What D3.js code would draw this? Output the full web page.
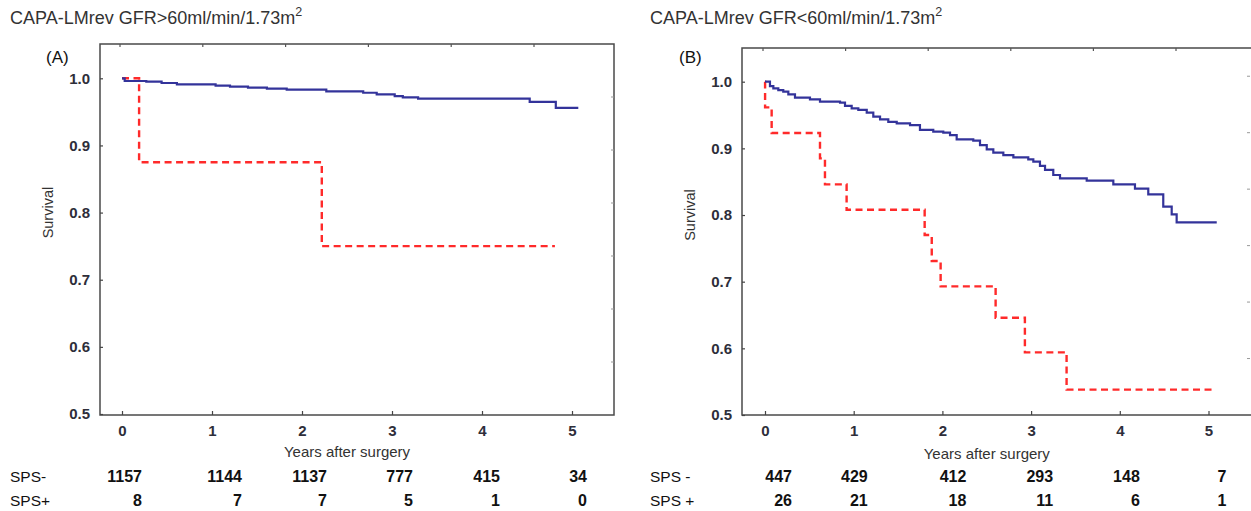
<!DOCTYPE html>
<html>
<head>
<meta charset="utf-8">
<script src="https://cdn.jsdelivr.net/npm/d3@7"></script>
<style>
  body { margin: 0; background: #fff; }
  svg { font-family: "Liberation Sans", Arial, sans-serif; }
</style>
</head>
<body>
<svg id="chart" width="1251" height="511"></svg>
<script>
// ticks
const yearTicks = [0, 1, 2, 3, 4, 5];
const survTicks = [0.5, 0.6, 0.7, 0.8, 0.9, 1.0];

// panel A (GFR > 60) step curves
const aNegTime = [0, 0.03, 0.27, 0.44, 0.61, 1.04, 1.2, 1.4, 1.61, 1.83, 2.27, 2.68, 2.83, 3.03, 3.12, 3.29, 4.53, 4.82, 5.07];
const aNegSurv = [1.0, 0.996, 0.995, 0.993, 0.991, 0.989, 0.9875, 0.986, 0.9845, 0.983, 0.9806, 0.9785, 0.976, 0.9736, 0.9717, 0.9696, 0.965, 0.956, 0.956];
const aPosTime = [0, 0.19, 2.22, 4.81];
const aPosSurv = [1.0, 0.875, 0.75, 0.75];

// panel B (GFR < 60)
const bNegTime = [0, 0.056, 0.094, 0.15, 0.206, 0.263, 0.338, 0.507, 0.62, 0.846, 0.902, 0.977, 1.052, 1.147, 1.221, 1.297, 1.39, 1.485, 1.635, 1.747, 1.897, 2.01, 2.086, 2.161, 2.348, 2.424, 2.5, 2.574, 2.687, 2.8, 2.968, 3.025, 3.1, 3.157, 3.25, 3.326, 3.627, 3.927, 4.171, 4.321, 4.49, 4.585, 4.641, 5.093];
const bNegSurv = [1.0, 0.9935, 0.99, 0.9875, 0.985, 0.981, 0.976, 0.9736, 0.97, 0.9685, 0.9636, 0.96, 0.9576, 0.9535, 0.9475, 0.9436, 0.9396, 0.9376, 0.935, 0.9276, 0.925, 0.9235, 0.92, 0.9136, 0.9115, 0.905, 0.8986, 0.8935, 0.89, 0.8866, 0.8836, 0.88, 0.8736, 0.8676, 0.86, 0.855, 0.8516, 0.846, 0.8396, 0.831, 0.8126, 0.801, 0.789, 0.789];
const bPosTime = [0, 0.001, 0.075, 0.62, 0.676, 0.92, 1.80, 1.88, 1.98, 2.60, 2.93, 3.40, 5.07];
const bPosSurv = [1.0, 0.9615, 0.923, 0.885, 0.846, 0.808, 0.770, 0.731, 0.693, 0.646, 0.594, 0.538, 0.538];

// numbers at risk
const aRiskNeg = [1157, 1144, 1137, 777, 415, 34];
const aRiskPos = [8, 7, 7, 5, 1, 0];
const bRiskNeg = [447, 429, 412, 293, 148, 7];
const bRiskPos = [26, 21, 18, 11, 6, 1];

const svg = d3.select("#chart");
const blue = "#33339a", red = "#ff2a2a", ink = "#333";

function drawPanel(p) {
    const g = svg.append("g");

    const x = d3.scaleLinear().domain([0, 5]).range([p.x0, p.x5]);
    const y = d3.scaleLinear().domain([0.5, 1.0]).range([p.y05, p.y10]);

    // secondary (unlabelled) top and right ticks
    const xTop = d3.scaleLinear().domain([0, 5]).range([p.x0 - 2, p.x0 - 2 + 5 * p.topStep]);
    const yRight = d3.scaleLinear().domain([0, p.rightDiv]).range([p.bottom, p.top]);

    g.append("rect")
        .attr("x", p.left).attr("y", p.top)
        .attr("width", p.right - p.left).attr("height", p.bottom - p.top)
        .attr("fill", "none").attr("stroke", "#4a4a4a").attr("stroke-width", 1.5);

    g.append("g").selectAll("line")
        .data(yearTicks).enter().append("line")
        .attr("x1", d => xTop(d)).attr("x2", d => xTop(d))
        .attr("y1", p.top).attr("y2", p.top + 3)
        .attr("stroke", "#555").attr("stroke-width", 1.2);

    g.append("g").selectAll("line")
        .data([1, 2, 3, 4, 5, 6]).enter().append("line")
        .attr("x1", p.tickRight - 3).attr("x2", p.tickRight)
        .attr("y1", d => yRight(d)).attr("y2", d => yRight(d))
        .attr("stroke", "#999").attr("stroke-width", 1);

    // left axis
    const yAxis = g.append("g")
        .attr("transform", `translate(${p.left},0)`)
        .call(d3.axisLeft(y).tickValues(survTicks).tickFormat(d3.format(".1f")).tickSize(-3).tickPadding(10));
    // bottom axis
    const xAxis = g.append("g")
        .attr("transform", `translate(0,${p.bottom})`)
        .call(d3.axisBottom(x).tickValues(yearTicks).tickFormat(d3.format("d")).tickSize(-4).tickPadding(10));

    [yAxis, xAxis].forEach(a => {
        a.select(".domain").remove();
        a.selectAll(".tick line").attr("stroke", "#444").attr("stroke-width", 1.2);
        a.selectAll(".tick text")
            .attr("fill", "#2e2e3a").style("font-size", "15px").style("font-weight", "bold")
            .style("font-family", "'Liberation Sans', Arial, sans-serif");
    });

    const line = d3.line().curve(d3.curveStepAfter).x(d => x(d[0])).y(d => y(d[1]));

    g.append("path")
        .datum(d3.zip(p.posTime, p.posSurv))
        .attr("d", line).attr("fill", "none")
        .attr("stroke", red).attr("stroke-width", 2.4).attr("stroke-dasharray", "7,4.5");

    g.append("path")
        .datum(d3.zip(p.negTime, p.negSurv))
        .attr("d", line).attr("fill", "none")
        .attr("stroke", blue).attr("stroke-width", 2.2);

    // titles and labels
    const title = g.append("text")
        .attr("x", p.titleX).attr("y", 24)
        .attr("fill", ink).style("font-size", "18px");
    title.append("tspan").text(p.title);
    title.append("tspan").attr("dy", -8).style("font-size", "12.5px").text("2");

    g.append("text")
        .attr("x", p.tagX).attr("y", 63)
        .attr("fill", "#111").style("font-size", "17px")
        .text(p.tag);

    g.append("text")
        .attr("transform", `translate(${p.survX},${y(0.8)}) rotate(-90)`)
        .attr("text-anchor", "middle")
        .attr("fill", ink).style("font-size", "14.5px")
        .text("Survival");

    g.append("text")
        .attr("x", (x(0) + x(5)) / 2 + p.xlabDx).attr("y", p.xlabY)
        .attr("text-anchor", "middle")
        .attr("fill", ink).style("font-size", "15px")
        .text("Years after surgery");

    // numbers at risk table
    [[p.negLabel, p.riskNeg, 482], [p.posLabel, p.riskPos, 506]].forEach(([label, vals, ty]) => {
        g.append("text")
            .attr("x", p.titleX).attr("y", ty)
            .attr("fill", "#111").style("font-size", "15.5px")
            .text(label);
        g.append("g").selectAll("text")
            .data(vals).enter().append("text")
            .attr("x", (d, i) => x(yearTicks[i]) + p.riskNudge[i])
            .attr("y", ty)
            .attr("text-anchor", "end")
            .attr("fill", "#111").style("font-size", "16px").style("font-weight", "bold")
            .text(d => d);
    });
}

drawPanel({
    title: "CAPA-LMrev GFR>60ml/min/1.73m", tag: "(A)",
    titleX: 10, tagX: 46, survX: 53,
    left: 100, right: 614, tickRight: 614, top: 44, bottom: 415,
    x0: 122, x5: 572, y05: 414, y10: 78.3,
    topStep: 82.8, rightDiv: 7,
    xlabDx: 0, xlabY: 457,
    negTime: aNegTime, negSurv: aNegSurv, posTime: aPosTime, posSurv: aPosSurv,
    negLabel: "SPS-", posLabel: "SPS+",
    riskNeg: aRiskNeg, riskPos: aRiskPos,
    riskNudge: [20, 30, 25, 21, 18, 15]
});

drawPanel({
    title: "CAPA-LMrev GFR<60ml/min/1.73m", tag: "(B)",
    titleX: 650, tagX: 679, survX: 695,
    left: 742, right: 1254, tickRight: 1250, top: 48, bottom: 415,
    x0: 765, x5: 1208.5, y05: 415, y10: 81.7,
    topStep: 82.6, rightDiv: 6.5,
    xlabDx: 0, xlabY: 459,
    negTime: bNegTime, negSurv: bNegSurv, posTime: bPosTime, posSurv: bPosSurv,
    negLabel: "SPS -", posLabel: "SPS +",
    riskNeg: bRiskNeg, riskPos: bRiskPos,
    riskNudge: [27, 14, 24, 22, 20, 18]
});
</script>
</body>
</html>
